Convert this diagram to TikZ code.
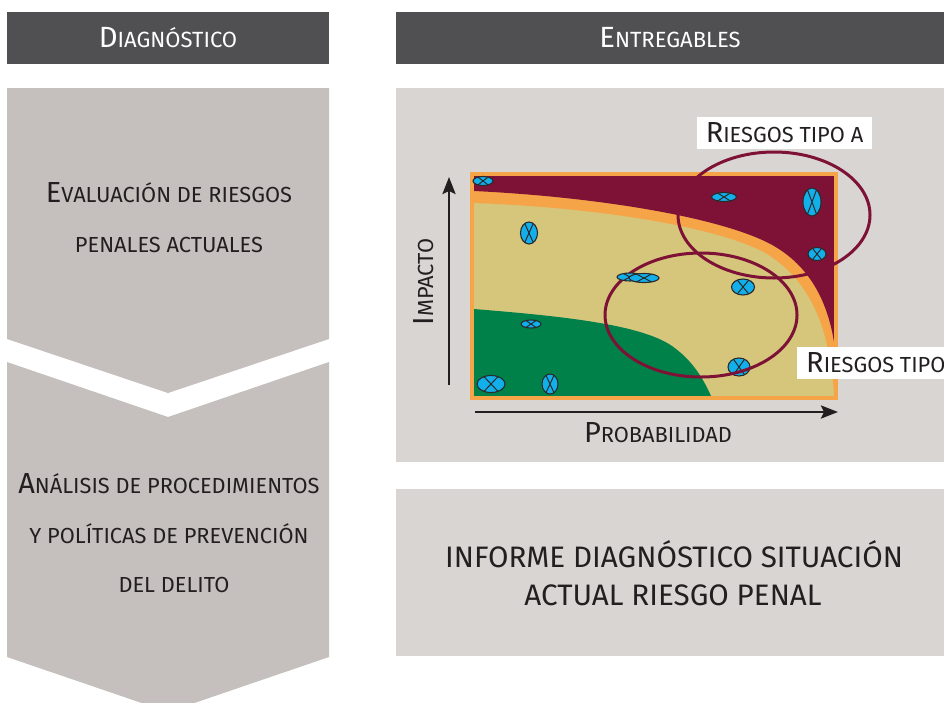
\documentclass[tikz,border=0pt]{standalone}
\usepackage{fontspec}
\setmainfont{Fira Sans}
\usetikzlibrary{arrows.meta, positioning}
\definecolor{HeadGray}{HTML}{505052}
\definecolor{ChevGray}{HTML}{C5C0BD}
\definecolor{PanelGray}{HTML}{D9D5D2}
\definecolor{InkDark}{HTML}{231F20}
\definecolor{RiskRed}{HTML}{7E1236}
\definecolor{RiskOrange}{HTML}{F6A448}
\definecolor{RiskSand}{HTML}{D5C67C}
\definecolor{RiskGreen}{HTML}{00814A}
\definecolor{MarkBlue}{HTML}{12B0EA}
\definecolor{MarkEdge}{HTML}{2A2A2C}

\newcommand{\capsc}[2]{\scalebox{1.33}{#1}\MakeUppercase{#2}}
\newcommand{\lowsc}[1]{\MakeUppercase{#1}}
\newcommand{\headfont}{\fontsize{22}{26}\selectfont}
\newcommand{\bodyfont}{\fontsize{21.8}{26}\selectfont}
\newcommand{\bigfont}{\fontsize{29.6}{34}\selectfont}

% risk marker: x, y, x radius, y radius
\newcommand{\riskmark}[4]{%
  \filldraw[markfill] (#1,#2) ellipse [x radius=#3pt, y radius=#4pt];
  \draw[markline, shift={(#1,#2)}] (60:#3pt and #4pt) -- (240:#3pt and #4pt)
    (120:#3pt and #4pt) -- (300:#3pt and #4pt);}

\begin{document}
\begin{tikzpicture}[
  x=1pt, y=-1pt,
  headbox/.style={fill=HeadGray, text=white, minimum width=#1,
    minimum height=52pt, inner sep=0pt, font=\headfont},
  steptext/.style={text=InkDark, inner sep=0pt, font=\bodyfont, anchor=base},
  reporttext/.style={text=InkDark, inner sep=0pt, font=\bigfont, anchor=base},
  lblbox/.style={fill=white, text=InkDark, font=\bodyfont, inner ysep=0pt,
    minimum height=32pt},
  axisarrow/.style={-{Stealth[length=17pt, width=13pt, inset=3pt]},
    line width=2.6pt, color=InkDark},
  axislabel/.style={text=InkDark, inner sep=0pt, font=\bodyfont, anchor=base},
  riskring/.style={draw=RiskRed, line width=3pt},
  markfill/.style={fill=MarkBlue, draw=MarkEdge, line width=1.1pt},
  markline/.style={draw=MarkEdge, line width=1pt}
]
\useasboundingbox (0,0) rectangle (944,702);
\clip (0,0) rectangle (944,702);

% headers
\node[headbox=322pt] (hdiag) at (168,38) {\capsc{D}{iagnóstico}};
\node[headbox=548pt] (hentr) at (670,38) {\capsc{E}{ntregables}};

% left column chevrons
\fill[ChevGray] (7,88) -- (329,88) -- (329,339) -- (168,393) -- (7,339) -- cycle;
\fill[ChevGray] (7,362) -- (168,417) -- (329,362) -- (329,657) -- (168,712)
  -- (7,657) -- cycle;

\node[steptext] (eval1) at (169,202) {\capsc{E}{valuación de riesgos}};
\node[steptext] (eval2) at (169,252) {\lowsc{penales actuales}};
\node[steptext] (anal1) at (169,493) {\capsc{A}{nálisis de procedimientos}};
\node[steptext] (anal2) at (169,543) {\lowsc{y políticas de prevención}};
\node[steptext] (anal3) at (174,592) {\lowsc{del delito}};

% right column panels
\fill[PanelGray] (396,88) rectangle (944,462);
\fill[PanelGray] (396,489) rectangle (944,656);

\node[reporttext] (inf1) at (674,567) {INFORME DIAGNÓSTICO SITUACIÓN};
\node[reporttext] (inf2) at (673,605) {ACTUAL RIESGO PENAL};

% risk map
\begin{scope}
  \clip (474,176) rectangle (834,396);
  \fill[RiskSand] (474,176) rectangle (834,396);
  \fill[RiskOrange] (474,176) -- (834,176) -- (834,394)
    .. controls (829,320) and (806,276) .. (762,251)
    .. controls (706,224) and (586,207) .. (474,203) -- cycle;
  \fill[RiskRed] (474,176) -- (834,176) -- (834,342)
    .. controls (826,292) and (802,257) .. (760,239)
    .. controls (700,213) and (580,196) .. (474,191) -- cycle;
  \fill[RiskGreen] (474,309) .. controls (560,316) and (640,324) .. (672,346)
    .. controls (692,360) and (703,378) .. (711,396) -- (474,396) -- cycle;
\end{scope}
\draw[RiskOrange, line width=3.5pt] (472,174) rectangle (836,398);

\riskmark{739}{367}{11}{9}
\draw[riskring] (774,215) ellipse [x radius=96pt, y radius=63pt];
\draw[riskring] (701,315) ellipse [x radius=96pt, y radius=62pt];

\riskmark{483}{181}{10}{4.5}
\riskmark{529}{233}{8.5}{11}
\riskmark{531}{324}{10}{4}
\riskmark{491}{384}{14}{8.5}
\riskmark{550}{384}{8}{10}
\riskmark{724}{197}{12.5}{4.5}
\riskmark{812}{202}{9}{14}
\riskmark{817}{254}{9}{6.5}
\riskmark{630}{277}{13}{4}
\riskmark{644}{278}{15}{4.5}
\riskmark{743}{287}{11.5}{8}

% labels of the risk groups
\node[lblbox, minimum width=175pt] (tipoA) at (784.5,133) {\capsc{R}{iesgos tipo a}};
\node[lblbox, anchor=west, inner xsep=9pt] (tipoB) at (797,362.5) {\capsc{R}{iesgos tipo}};

% axes
\coordinate (ybot) at (449,385);
\coordinate (ytop) at (449,177);
\coordinate (xleft) at (475,412);
\coordinate (xright) at (838,412);
\draw[axisarrow] (ybot) -- (ytop);
\draw[axisarrow] (xleft) -- (xright);
\node[axislabel, rotate=90] (impacto) at (433,282) {\capsc{I}{mpacto}};
\node[axislabel] (probab) at (658,442) {\capsc{P}{robabilidad}};

\end{tikzpicture}
\end{document}
